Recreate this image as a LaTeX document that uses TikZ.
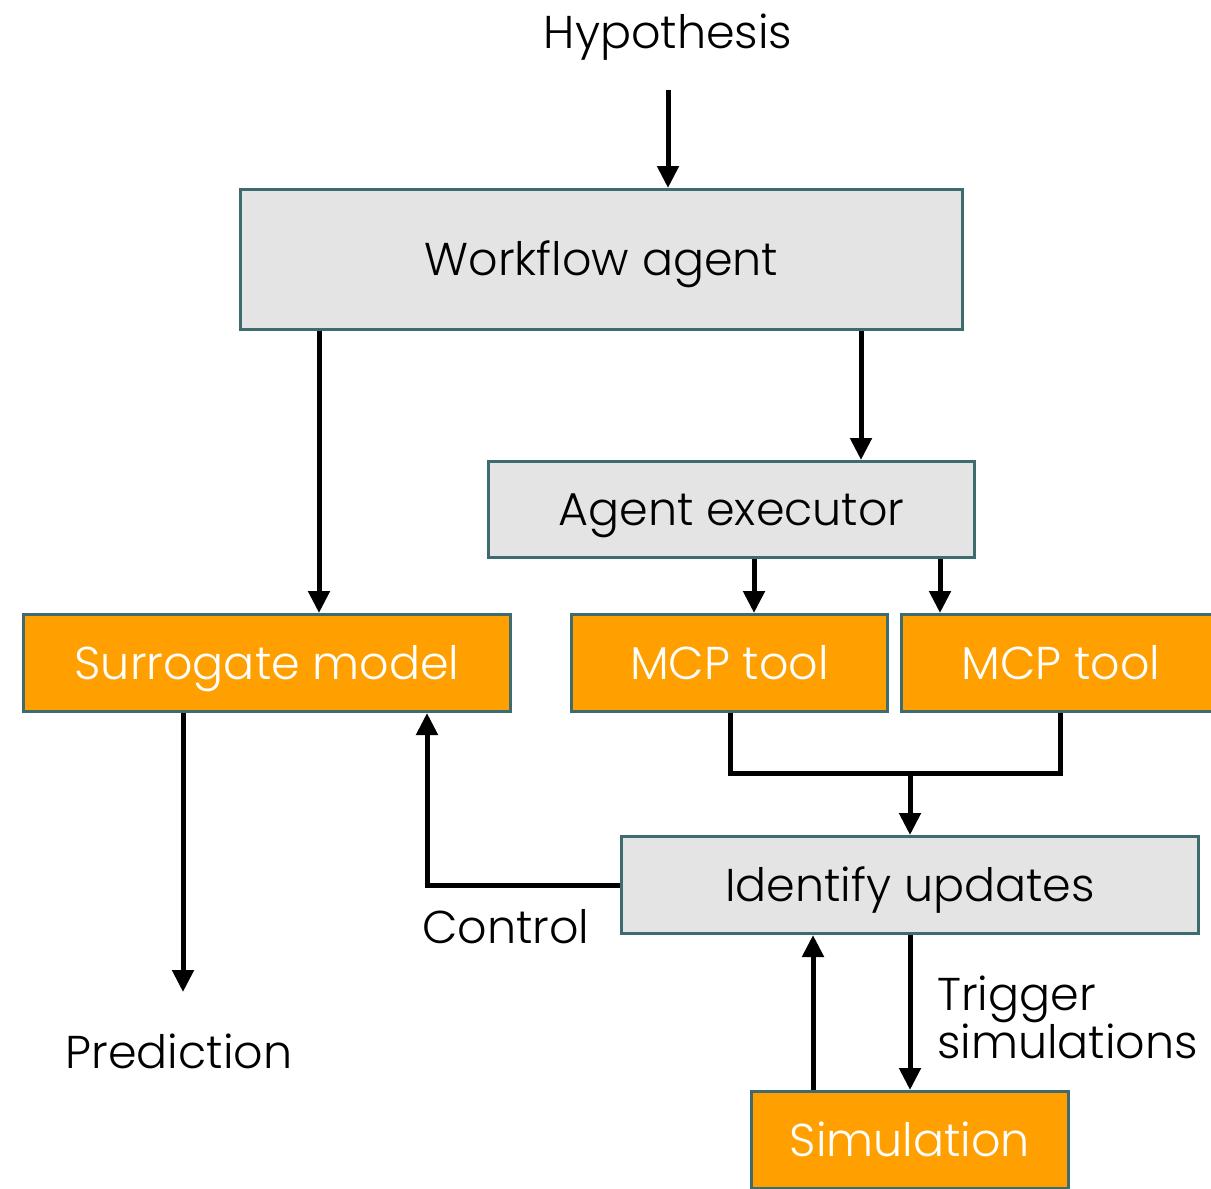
\documentclass[tikz,border=0pt]{standalone}
\usepackage{fontspec}
\setmainfont{Poppins}[UprightFont=* Light]
\usetikzlibrary{arrows.meta}
\definecolor{edgeteal}{HTML}{3E6C6E}
\definecolor{panelgray}{HTML}{E4E4E4}
\definecolor{toolorange}{HTML}{FFA000}
\tikzset{
  bigtext/.style={font=\fontsize{46}{48}\selectfont},
  box/.style={draw=edgeteal, line width=3pt, inner sep=0pt, bigtext, text height=39pt, text depth=7pt},
  graybox/.style={box, fill=panelgray, text=black},
  orangebox/.style={box, fill=toolorange, text=white},
  label/.style={inner sep=0pt, bigtext, text=black, text height=39pt, text depth=7pt},
  wire/.style={line width=5pt, draw=black, line join=miter},
  arr/.style={wire, -{Triangle[length=22pt,width=21pt]}}
}
\begin{document}
\begin{tikzpicture}[x=1pt,y=-1pt]
\useasboundingbox (0,0) rectangle (1211,1189);

% boxes
\node[graybox, minimum width=722pt, minimum height=140pt] (wf) at (601.5,259.5) {Workflow agent};
\node[graybox, minimum width=486pt, minimum height=96pt] (ex) at (731.5,509.5) {Agent executor};
\node[orangebox, minimum width=487pt, minimum height=97pt] (sm) at (267,663) {Surrogate model};
\node[orangebox, minimum width=316pt, minimum height=97pt] (m1) at (729.5,663) {MCP tool};
\node[orangebox, minimum width=320pt, minimum height=97pt] (m2) at (1061,663) {MCP tool};
\node[graybox, minimum width=577pt, minimum height=97pt] (iu) at (910,885) {Identify updates};
\node[orangebox, minimum width=317pt, minimum height=97pt] (sim) at (910,1140) {Simulation};

% free labels
\node[label] (hyp) at (668,32) {Hypothesis};
\node[label, anchor=west] (ctl) at (422,927) {Control};
\node[label] (pred) at (179,1052) {Prediction};
\node[inner sep=0pt, bigtext, anchor=base west, align=left] (trig) at (937,1058) {Trigger\\simulations};

% routing columns
\coordinate (hypout) at (668,90);
\coordinate (c319) at (319,0);
\coordinate (c861) at (861,0);
\coordinate (c754) at (754,0);
\coordinate (c940) at (940,0);
\coordinate (c730) at (730,0);
\coordinate (c1060) at (1060,0);
\coordinate (join) at (910,773);
\coordinate (c427) at (427,0);
\coordinate (c183) at (183,0);
\coordinate (predin) at (183,992);
\coordinate (c813) at (813,0);

% connectors
\draw[arr] (hypout) -- (wf.north -| hypout);
\draw[arr] (wf.south -| c319) -- (sm.north -| c319);
\draw[arr] (wf.south -| c861) -- (ex.north -| c861);
\draw[arr] (ex.south -| c754) -- (m1.north -| c754);
\draw[arr] (ex.south -| c940) -- (m2.north -| c940);
\draw[wire] (m1.south -| c730) |- (join) -| (m2.south -| c1060);
\draw[arr] (join) -- (iu.north -| join);
\draw[arr] (iu.west) -| (sm.south -| c427);
\draw[arr] (sm.south -| c183) -- (predin);
\draw[arr] (sim.north -| c813) -- (iu.south -| c813);
\draw[arr] (iu.south) -- (sim.north);
\end{tikzpicture}
\end{document}
